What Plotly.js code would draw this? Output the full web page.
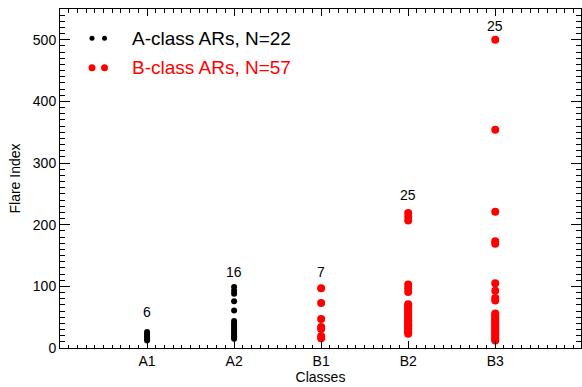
<!DOCTYPE html>
<html>
<head>
<meta charset="utf-8">
<script src="https://cdn.plot.ly/plotly-3.0.1.min.js"></script>
<style>html,body{margin:0;padding:0;background:#fff;}#chart{width:582px;height:387px;}</style>
</head>
<body>
<div id="chart"></div>
<script>
// ---- data ----
const classes = ['A1', 'A2', 'B1', 'B2', 'B3'];
const classPos = [1, 2, 3, 4, 5];

const a1Values = [26, 23, 20, 17, 14, 12];
const a2Values = [99, 93, 88, 76, 61, 44, 40, 37, 34, 31, 28, 25, 22, 19, 17, 15];
const b1Values = [97, 73, 47, 34, 31, 19, 16];
const b2Values = [219, 213, 207, 103, 97, 91, 71, 68, 65, 62, 59, 56, 54, 51, 48, 45, 43, 40, 37, 35, 32, 30, 28, 25, 23];
const b3Values = [500, 354, 221, 173, 169, 105, 93, 81, 77, 56, 53, 50, 47, 44, 41, 38, 35, 32, 29, 26, 23, 20, 17, 14, 12];

const countLabelY = [59, 123, 123, 249, 523];
const legendLabels = ['A-class ARs, N=22', 'B-class ARs, N=57'];
const yTickVals = [0, 100, 200, 300, 400, 500];

// ---- build ----
const FONT = '"Liberation Sans", Arial, Helvetica, sans-serif';
const groupsA = [[1, a1Values], [2, a2Values]];
const groupsB = [[3, b1Values], [4, b2Values], [5, b3Values]];
function flatten(groups) {
  const xs = [], ys = [];
  groups.forEach(([x, vals]) => vals.forEach(v => { xs.push(x); ys.push(v); }));
  return {xs, ys};
}
const fa = flatten(groupsA), fb = flatten(groupsB);
const allGroups = [a1Values, a2Values, b1Values, b2Values, b3Values];

const traces = [
  {x: fa.xs, y: fa.ys, type: 'scatter', mode: 'markers', name: legendLabels[0],
   marker: {color: 'black', size: 6, line: {width: 0}}, cliponaxis: false},
  {x: fb.xs, y: fb.ys, type: 'scatter', mode: 'markers', name: legendLabels[1],
   marker: {color: 'rgb(255,0,0)', size: 8, line: {width: 0}}, cliponaxis: false}
];

const annotations = classPos.map((x, i) => ({
  x: x, y: countLabelY[i], xref: 'x', yref: 'y', text: String(allGroups[i].length),
  showarrow: false, font: {family: FONT, size: 14, color: 'black'}, xanchor: 'center', yanchor: 'middle'
}));

// legend drawn IDL-style: two dots + label
const L = 60, W = 521, T = 9, H = 339;
const px = v => (v - L) / W;
const py = v => (T + H - v) / H;
annotations.push({x: px(130), y: py(38), xref: 'paper', yref: 'paper', text: legendLabels[0], showarrow: false,
  xanchor: 'left', yanchor: 'middle', font: {family: FONT, size: 19, color: 'black'}});
annotations.push({x: px(130), y: py(67), xref: 'paper', yref: 'paper', text: legendLabels[1], showarrow: false,
  xanchor: 'left', yanchor: 'middle', font: {family: FONT, size: 19, color: 'rgb(255,0,0)'}});

function dot(cx, cy, d, color) {
  return {type: 'circle', xref: 'paper', yref: 'paper', xsizemode: 'pixel', ysizemode: 'pixel',
    xanchor: px(cx), yanchor: py(cy), x0: -d / 2, x1: d / 2, y0: -d / 2, y1: d / 2,
    fillcolor: color, line: {width: 0}};
}
const shapes = [dot(92, 38.3, 5, 'black'), dot(104.5, 38.3, 5, 'black'),
  dot(92, 67.7, 7, 'rgb(255,0,0)'), dot(104.5, 67.7, 7, 'rgb(255,0,0)')];

const layout = {
  width: 582, height: 387,
  margin: {l: L, r: 582 - L - W, t: T, b: 387 - T - H, pad: 0},
  paper_bgcolor: 'white', plot_bgcolor: 'white',
  showlegend: false,
  font: {family: FONT, size: 14, color: 'black'},
  xaxis: {
    range: [0, 5.985], tickmode: 'array', tickvals: classPos, ticktext: classes,
    ticks: 'inside', ticklen: 7, tickwidth: 1, tickcolor: 'black',
    minor: {tickmode: 'linear', tick0: 0, dtick: 0.1, ticks: 'inside', ticklen: 3.5, tickwidth: 1, tickcolor: 'black'},
    showline: true, linecolor: 'black', linewidth: 1, mirror: 'allticks',
    showgrid: false, zeroline: false,
    tickfont: {family: FONT, size: 14}, automargin: false,
    title: {text: 'Classes', font: {family: FONT, size: 14}, standoff: 2}
  },
  yaxis: {
    range: [0, 550], tickmode: 'array', tickvals: yTickVals,
    ticks: 'inside', ticklen: 10, tickwidth: 1, tickcolor: 'black',
    minor: {tickmode: 'linear', tick0: 0, dtick: 10, ticks: 'inside', ticklen: 5, tickwidth: 1, tickcolor: 'black'},
    showline: true, linecolor: 'black', linewidth: 1, mirror: 'allticks',
    showgrid: false, zeroline: false,
    tickfont: {family: FONT, size: 14}, automargin: false,
    title: {text: 'Flare Index', font: {family: FONT, size: 14}, standoff: 8}
  },
  annotations: annotations,
  shapes: shapes
};

Plotly.newPlot('chart', traces, layout, {displayModeBar: false, staticPlot: true});
</script>
</body>
</html>
